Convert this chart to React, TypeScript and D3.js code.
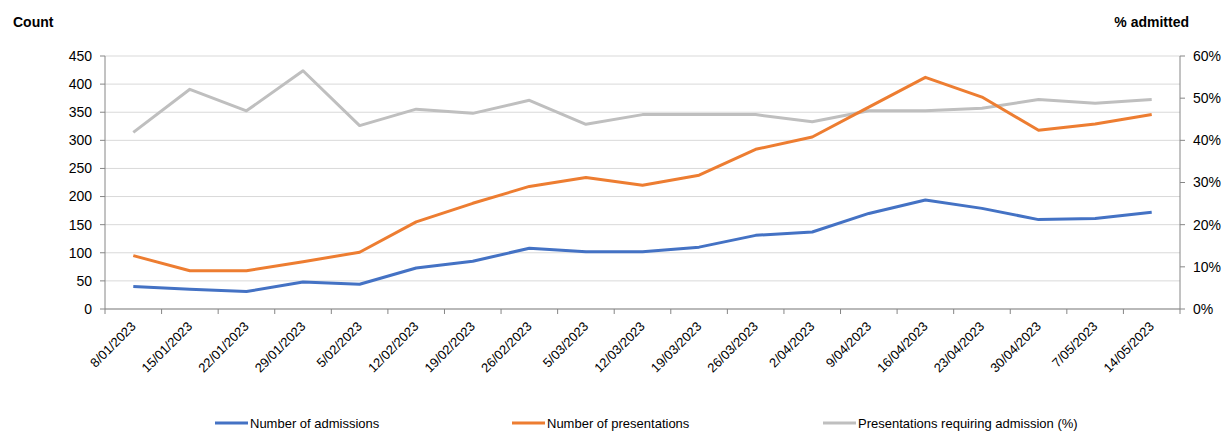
import React from 'react';
import * as d3 from 'd3';

// weekly values
const weeks = [
  '8/01/2023', '15/01/2023', '22/01/2023', '29/01/2023', '5/02/2023', '12/02/2023',
  '19/02/2023', '26/02/2023', '5/03/2023', '12/03/2023', '19/03/2023', '26/03/2023',
  '2/04/2023', '9/04/2023', '16/04/2023', '23/04/2023', '30/04/2023', '7/05/2023', '14/05/2023',
];
const admissions = [40, 35, 31, 48, 44, 73, 85, 108, 102, 102, 110, 131, 137, 170, 194, 179, 159, 161, 172];
const presentations = [95, 68, 68, 84, 101, 155, 188, 218, 234, 220, 238, 284, 306, 359, 412, 377, 318, 329, 346];
const pctAdmitted = [41.9, 52.1, 47.0, 56.5, 43.5, 47.4, 46.4, 49.5, 43.8, 46.1, 46.1, 46.1, 44.4, 47.0, 47.0, 47.6, 49.7, 48.8, 49.7];

const countTicks = [0, 50, 100, 150, 200, 250, 300, 350, 400, 450];
const pctTicks = [0, 10, 20, 30, 40, 50, 60];

const BLUE = '#4472C4';
const ORANGE = '#ED7D31';
const GREY = '#BFBFBF';
const FONT = '"Liberation Sans", Arial, sans-serif';

const App = () => {
  const left = 105, right = 1180, top = 56, bottom = 309;

  const x = d3.scaleBand<string>().domain(weeks).range([left, right]).padding(0);
  const cx = (i: number) => (x(weeks[i]) ?? 0) + x.bandwidth() / 2;
  const y = d3.scaleLinear().domain([0, 450]).range([bottom, top]);
  const yPct = d3.scaleLinear().domain([0, 60]).range([bottom, top]);

  const countLine = d3.line<number>().x((_, i) => cx(i)).y(d => y(d));
  const pctLine = d3.line<number>().x((_, i) => cx(i)).y(d => yPct(d));

  const legend = [
    { label: 'Number of admissions', color: BLUE, x: 215 },
    { label: 'Number of presentations', color: ORANGE, x: 512 },
    { label: 'Presentations requiring admission (%)', color: GREY, x: 823 },
  ];

  return (
    <svg width={1225} height={432} style={{ position: 'absolute', left: 0, top: 0, fontFamily: FONT }}>
      <rect width={1225} height={432} fill="#fff" />

      <text x={13} y={27} fontSize={14} fontWeight="bold" fill="#000">Count</text>
      <text x={1189} y={27} fontSize={14} fontWeight="bold" fill="#000" textAnchor="end">% admitted</text>

      {/* gridlines */}
      {countTicks.map(t => (
        <line key={'g' + t} x1={left} x2={right} y1={y(t)} y2={y(t)} stroke="#D9D9D9" strokeWidth={1} />
      ))}

      {/* left axis */}
      <line x1={left} x2={left} y1={top} y2={bottom} stroke="#868686" />
      {countTicks.map(t => (
        <g key={'l' + t}>
          <line x1={left - 5} x2={left} y1={y(t)} y2={y(t)} stroke="#868686" />
          <text x={92} y={y(t)} dy="0.35em" fontSize={14} textAnchor="end" fill="#000">{t}</text>
        </g>
      ))}

      {/* right axis */}
      <line x1={right} x2={right} y1={top} y2={bottom} stroke="#868686" />
      {pctTicks.map(t => (
        <g key={'r' + t}>
          <line x1={right} x2={right + 5} y1={yPct(t)} y2={yPct(t)} stroke="#868686" />
          <text x={1193} y={yPct(t)} dy="0.35em" fontSize={14} fill="#000">{t}%</text>
        </g>
      ))}

      {/* bottom axis */}
      <line x1={left} x2={right} y1={bottom} y2={bottom} stroke="#868686" />
      {weeks.map((w, i) => (
        <line key={'t' + w} x1={x(w)} x2={x(w)} y1={bottom} y2={bottom + 5} stroke="#868686" />
      ))}
      <line x1={right} x2={right} y1={bottom} y2={bottom + 5} stroke="#868686" />
      {weeks.map((w, i) => (
        <text key={'x' + w} transform={`translate(${cx(i)},${bottom + 15}) rotate(-45)`}
          dy="0.35em" fontSize={13} textAnchor="end" fill="#000">{w}</text>
      ))}

      {/* series */}
      <path d={pctLine(pctAdmitted) ?? ''} fill="none" stroke={GREY} strokeWidth={3} strokeLinejoin="round" />
      <path d={countLine(presentations) ?? ''} fill="none" stroke={ORANGE} strokeWidth={3} strokeLinejoin="round" />
      <path d={countLine(admissions) ?? ''} fill="none" stroke={BLUE} strokeWidth={3} strokeLinejoin="round" />

      {/* legend */}
      {legend.map(l => (
        <g key={l.label}>
          <line x1={l.x} x2={l.x + 33} y1={423} y2={423} stroke={l.color} strokeWidth={3} />
          <text x={l.x + 35} y={423} dy="0.35em" fontSize={13} fill="#000">{l.label}</text>
        </g>
      ))}
    </svg>
  );
};

export default App;
